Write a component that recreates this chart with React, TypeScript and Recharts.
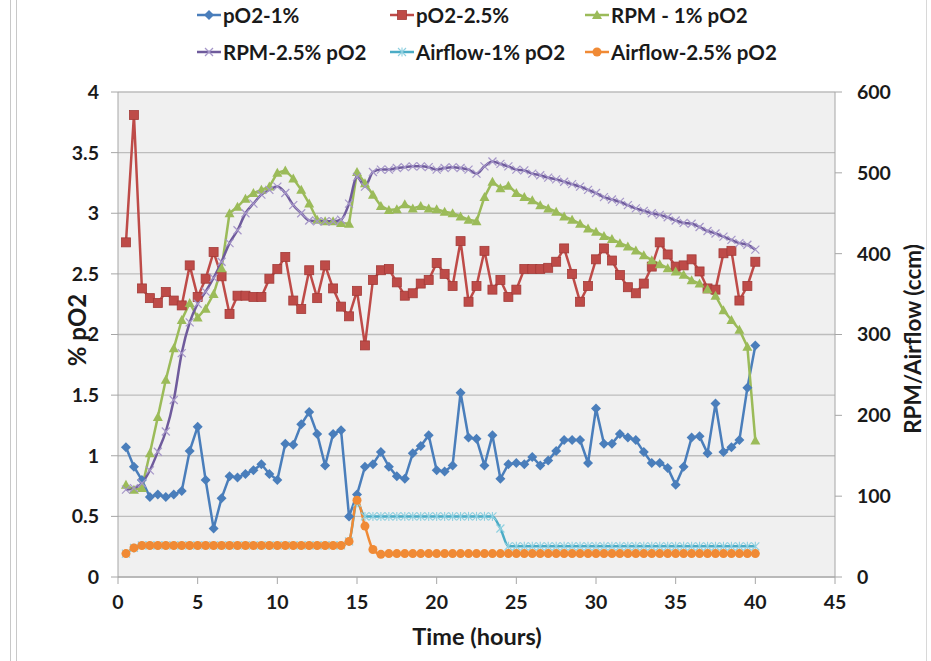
import React from "react";
import { LineChart, Line, XAxis, YAxis, CartesianGrid } from "recharts";

// time in hours
const hours = [
  0.5, 1, 1.5, 2, 2.5, 3, 3.5, 4, 4.5, 5,
  5.5, 6, 6.5, 7, 7.5, 8, 8.5, 9, 9.5, 10,
  10.5, 11, 11.5, 12, 12.5, 13, 13.5, 14, 14.5, 15,
  15.5, 16, 16.5, 17, 17.5, 18, 18.5, 19, 19.5, 20,
  20.5, 21, 21.5, 22, 22.5, 23, 23.5, 24, 24.5, 25,
  25.5, 26, 26.5, 27, 27.5, 28, 28.5, 29, 29.5, 30,
  30.5, 31, 31.5, 32, 32.5, 33, 33.5, 34, 34.5, 35,
  35.5, 36, 36.5, 37, 37.5, 38, 38.5, 39, 39.5, 40,
];

const pO2_1 = [
  1.07, 0.91, 0.8, 0.66, 0.68, 0.66, 0.68, 0.71, 1.04, 1.24,
  0.8, 0.4, 0.65, 0.83, 0.82, 0.85, 0.88, 0.93, 0.85, 0.8,
  1.1, 1.09, 1.26, 1.36, 1.18, 0.92, 1.18, 1.21, 0.5, 0.68,
  0.91, 0.93, 1.03, 0.91, 0.83, 0.81, 1.02, 1.08, 1.17, 0.88,
  0.87, 0.92, 1.52, 1.15, 1.14, 0.92, 1.17, 0.81, 0.93, 0.94,
  0.93, 0.99, 0.92, 0.96, 1.04, 1.13, 1.13, 1.13, 0.94, 1.39,
  1.1, 1.1, 1.18, 1.15, 1.13, 1.03, 0.94, 0.94, 0.9, 0.76,
  0.91, 1.15, 1.16, 1.02, 1.43, 1.03, 1.07, 1.13, 1.56, 1.91,
];

const pO2_25 = [
  2.76, 3.81, 2.38, 2.3, 2.26, 2.35, 2.28, 2.24, 2.57, 2.31,
  2.46, 2.68, 2.48, 2.17, 2.32, 2.32, 2.31, 2.31, 2.46, 2.54,
  2.64, 2.28, 2.21, 2.53, 2.3, 2.57, 2.38, 2.23, 2.15, 2.36,
  1.91, 2.45, 2.53, 2.54, 2.43, 2.32, 2.34, 2.42, 2.45, 2.59,
  2.5, 2.4, 2.77, 2.27, 2.4, 2.69, 2.37, 2.45, 2.31, 2.37,
  2.54, 2.54, 2.54, 2.55, 2.6, 2.71, 2.5, 2.27, 2.4, 2.62,
  2.71, 2.61, 2.49, 2.39, 2.34, 2.42, 2.56, 2.76, 2.66, 2.56,
  2.57, 2.62, 2.52, 2.38, 2.37, 2.67, 2.69, 2.28, 2.4, 2.6,
];

const rpm1 = [
  114, 108, 110, 153, 198, 244, 283, 318, 339, 321,
  332, 350, 382, 450, 458, 468, 475, 479, 483, 500,
  503, 493, 479, 462, 442, 440, 440, 438, 437, 501,
  487, 473, 459, 454, 455, 461, 456, 459, 456, 455,
  452, 450, 446, 442, 440, 470, 489, 481, 484, 475,
  470, 466, 460, 456, 452, 446, 442, 437, 431, 427,
  422, 418, 413, 409, 404, 398, 392, 387, 382, 378,
  374, 367, 363, 356, 348, 330, 318, 306, 285, 169,
];

const rpm25 = [
  108, 110, 116, 132, 155, 180, 219, 277, 315, 338,
  353, 370, 390, 413, 429, 450, 462, 473, 479, 483,
  475, 460, 450, 441, 440, 440, 440, 442, 462, 495,
  483, 501, 504, 504, 506, 507, 508, 508, 507, 504,
  506, 507, 506, 504, 499, 508, 514, 511, 508, 504,
  503, 499, 497, 494, 492, 489, 486, 483, 479, 475,
  470, 467, 464, 460, 456, 453, 450, 448, 445, 441,
  438, 437, 433, 428, 425, 421, 417, 413, 411, 405,
];

const air1 = [
  29, 36, 39, 39, 39, 39, 39, 39, 39, 39,
  39, 39, 39, 39, 39, 39, 39, 39, 39, 39,
  39, 39, 39, 39, 39, 39, 39, 39, 44, 92,
  75, 75, 75, 75, 75, 75, 75, 75, 75, 75,
  75, 75, 75, 75, 75, 75, 75, 60, 38, 38,
  38, 38, 38, 38, 38, 38, 38, 38, 38, 38,
  38, 38, 38, 38, 38, 38, 38, 38, 38, 38,
  38, 38, 38, 38, 38, 38, 38, 38, 38, 38,
];

const air25 = [
  29, 36, 39, 39, 39, 39, 39, 39, 39, 39,
  39, 39, 39, 39, 39, 39, 39, 39, 39, 39,
  39, 39, 39, 39, 39, 39, 39, 39, 44, 95,
  63, 34, 28, 29, 29, 29, 29, 29, 29, 29,
  29, 29, 29, 29, 29, 29, 29, 29, 29, 29,
  29, 29, 29, 29, 29, 29, 29, 29, 29, 29,
  29, 29, 29, 29, 29, 29, 29, 29, 29, 29,
  29, 29, 29, 29, 29, 29, 29, 29, 29, 29,
];

const xTicks = [0, 5, 10, 15, 20, 25, 30, 35, 40, 45];
const leftTicks = [0, 0.5, 1, 1.5, 2, 2.5, 3, 3.5, 4];
const minorTicks = [
  0.1, 0.2, 0.3, 0.4, 0.6, 0.7, 0.8, 0.9, 1.1, 1.2, 1.3, 1.4, 1.6, 1.7, 1.8, 1.9,
  2.1, 2.2, 2.3, 2.4, 2.6, 2.7, 2.8, 2.9, 3.1, 3.2, 3.3, 3.4, 3.6, 3.7, 3.8, 3.9,
];
const rightTicks = [0, 100, 200, 300, 400, 500, 600];

const data = hours.map((t, i) => ({
  t,
  pO2_1: pO2_1[i],
  pO2_25: pO2_25[i],
  rpm1: rpm1[i],
  rpm25: rpm25[i],
  air1: air1[i],
  air25: air25[i],
}));

const C = {
  blue: "#4a7ebb",
  red: "#be4b48",
  green: "#9bbb59",
  purple: "#6f5b9c",
  purpleMark: "#a596c8",
  cyan: "#4bacc6",
  cyanMark: "#8fd0e0",
  orange: "#f08a35",
};

const FONT = "Lato, 'Open Sans', sans-serif";

const Diamond = ({ cx, cy }: any) => (
  <polygon points={`${cx},${cy - 5} ${cx + 5},${cy} ${cx},${cy + 5} ${cx - 5},${cy}`} fill={C.blue} />
);
const Square = ({ cx, cy }: any) => (
  <rect x={cx - 4.5} y={cy - 4.5} width={9} height={9} fill={C.red} stroke="#a33b38" strokeWidth={0.8} />
);
const Triangle = ({ cx, cy }: any) => (
  <polygon points={`${cx},${cy - 5} ${cx + 5},${cy + 4} ${cx - 5},${cy + 4}`} fill={C.green} />
);
const Cross = ({ cx, cy }: any) => (
  <g stroke={C.purpleMark} strokeWidth={1.2}>
    <line x1={cx - 4} y1={cy - 4} x2={cx + 4} y2={cy + 4} />
    <line x1={cx - 4} y1={cy + 4} x2={cx + 4} y2={cy - 4} />
  </g>
);
const Star = ({ cx, cy }: any) => (
  <g stroke={C.cyanMark} strokeWidth={1.1}>
    <line x1={cx - 4} y1={cy - 4} x2={cx + 4} y2={cy + 4} />
    <line x1={cx - 4} y1={cy + 4} x2={cx + 4} y2={cy - 4} />
    <line x1={cx} y1={cy - 4.5} x2={cx} y2={cy + 4.5} />
  </g>
);
const Dot = ({ cx, cy }: any) => <circle cx={cx} cy={cy} r={4.5} fill={C.orange} />;

const mk = (Shape: any) => (p: any) => <Shape key={p.index} cx={p.cx} cy={p.cy} />;

const legendItems = [
  { label: "pO2-1%", color: C.blue, Shape: Diamond, x: 196, y: 15 },
  { label: "pO2-2.5%", color: C.red, Shape: Square, x: 389, y: 15 },
  { label: "RPM - 1% pO2", color: C.green, Shape: Triangle, x: 584, y: 15 },
  { label: "RPM-2.5% pO2", color: C.purple, Shape: Cross, x: 196, y: 52 },
  { label: "Airflow-1% pO2", color: C.cyan, Shape: Star, x: 389, y: 52 },
  { label: "Airflow-2.5% pO2", color: C.orange, Shape: Dot, x: 584, y: 52 },
];

const text: React.CSSProperties = {
  position: "absolute",
  fontFamily: FONT,
  fontWeight: 700,
  color: "#1a1a1a",
  whiteSpace: "nowrap",
};

export default function App() {
  const tick = { fill: "#1a1a1a", fontSize: 19.5, fontWeight: 700, fontFamily: FONT };
  return (
    <div style={{ position: "absolute", left: 0, top: 0, width: 931, height: 661, background: "#fff", overflow: "hidden" }}>
      <div style={{ position: "absolute", left: 10, top: 0, width: 1, height: 661, background: "#c8c8c8" }} />
      <div style={{ position: "absolute", left: 16, top: 0, width: 1, height: 661, background: "#c8c8c8" }} />
      <div style={{ position: "absolute", left: 926, top: 0, width: 1, height: 661, background: "#d8d8d8" }} />

      <LineChart width={931} height={661} data={data} margin={{ top: 92, right: 40, bottom: 44, left: 60 }}>
        <CartesianGrid yAxisId="left" vertical={false} stroke="#bdbdbd" strokeWidth={1.3} fill="#f0f0f0" />
        <XAxis
          dataKey="t"
          type="number"
          domain={[0, 45]}
          ticks={xTicks}
          height={40}
          stroke="#a6a6a6"
          tickSize={7}
          tickMargin={11}
          tick={tick}
        />
        <YAxis
          yAxisId="left"
          domain={[0, 4]}
          ticks={leftTicks}
          width={58}
          stroke="#a6a6a6"
          tickSize={7}
          tickMargin={12}
          tick={tick}
        />
        <YAxis
          yAxisId="minor"
          domain={[0, 4]}
          ticks={minorTicks}
          interval={0}
          mirror
          width={1}
          axisLine={false}
          tickLine={{ stroke: "#b0b0b0" }}
          tickSize={4}
          tick={{ fontSize: 1, fill: "transparent" }}
        />
        <YAxis
          yAxisId="right"
          orientation="right"
          domain={[0, 600]}
          ticks={rightTicks}
          width={56}
          stroke="#a6a6a6"
          tickSize={7}
          tickMargin={15}
          tick={tick}
        />
        <Line yAxisId="left" type="linear" dataKey="pO2_1" stroke={C.blue} strokeWidth={2.5} dot={mk(Diamond)} isAnimationActive={false} />
        <Line yAxisId="left" type="linear" dataKey="pO2_25" stroke={C.red} strokeWidth={2.5} dot={mk(Square)} isAnimationActive={false} />
        <Line yAxisId="right" type="linear" dataKey="rpm1" stroke={C.green} strokeWidth={2.5} dot={mk(Triangle)} isAnimationActive={false} />
        <Line yAxisId="right" type="monotone" dataKey="rpm25" stroke={C.purple} strokeWidth={2.5} dot={mk(Cross)} isAnimationActive={false} />
        <Line yAxisId="right" type="monotone" dataKey="air1" stroke={C.cyan} strokeWidth={2.5} dot={mk(Star)} isAnimationActive={false} />
        <Line yAxisId="right" type="monotone" dataKey="air25" stroke={C.orange} strokeWidth={2.5} dot={mk(Dot)} isAnimationActive={false} />
      </LineChart>

      {legendItems.map((it) => (
        <div key={it.label} style={{ ...text, left: it.x, top: it.y - 13, height: 26, display: "flex", alignItems: "center", fontSize: 20.5 }}>
          <svg width={26} height={14} style={{ marginRight: 1 }}>
            <line x1={1} y1={7} x2={25} y2={7} stroke={it.color} strokeWidth={2.5} />
            <it.Shape cx={13} cy={7} />
          </svg>
          <span>{it.label}</span>
        </div>
      ))}

      <div style={{ ...text, left: 76, top: 330, fontSize: 24, transform: "translate(-50%, -50%) rotate(-90deg)" }}>% pO2</div>
      <div style={{ ...text, left: 912, top: 339, fontSize: 22.5, transform: "translate(-50%, -50%) rotate(-90deg)" }}>RPM/Airflow (ccm)</div>
      <div style={{ ...text, left: 477, top: 636, fontSize: 23.5, transform: "translate(-50%, -50%)" }}>Time (hours)</div>
    </div>
  );
}
